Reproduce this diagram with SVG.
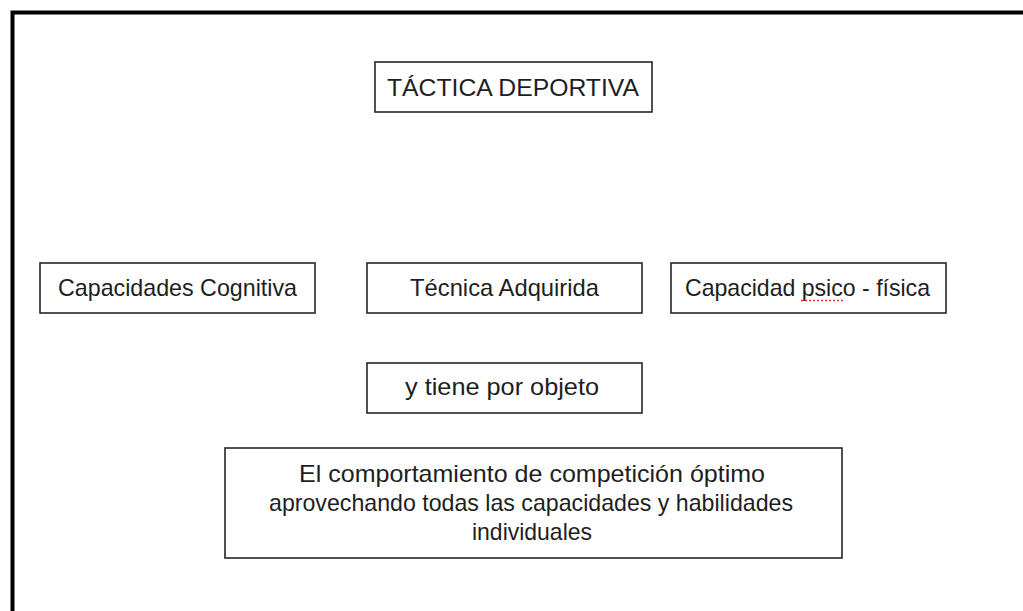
<svg xmlns="http://www.w3.org/2000/svg" width="1023" height="611" viewBox="0 0 1023 611">
  <style>
    .box { fill: #ffffff; stroke: #262626; stroke-width: 1.6; }
    .lbl { font-family: "Liberation Sans", Arial, sans-serif; font-size: 24px; fill: #1e1e1e; text-anchor: middle; }
    .frame { fill: none; stroke: #000000; stroke-width: 4; }
    .spell { fill: none; stroke: #e0352b; stroke-width: 1.6; stroke-dasharray: 2 2; }
  </style>
  <rect width="1023" height="611" fill="#ffffff"/>
  <path class="frame" d="M12.5,611 V12.5 H1023"/>

  <g id="connectors"></g>

  <g id="node-tactica">
    <rect class="box" x="375" y="62" width="277" height="50"/>
    <text class="lbl" x="513" y="96" textLength="252" lengthAdjust="spacingAndGlyphs">TÁCTICA DEPORTIVA</text>
  </g>

  <g id="node-cognitiva">
    <rect class="box" x="40" y="263" width="275" height="50"/>
    <text class="lbl" x="177.5" y="296" textLength="239" lengthAdjust="spacingAndGlyphs">Capacidades Cognitiva</text>
  </g>

  <g id="node-tecnica">
    <rect class="box" x="367" y="263" width="275" height="50"/>
    <text class="lbl" x="504.5" y="296" textLength="189" lengthAdjust="spacingAndGlyphs">Técnica Adquirida</text>
  </g>

  <g id="node-psicofisica">
    <rect class="box" x="671" y="263" width="275" height="50"/>
    <text class="lbl" x="807.5" y="296" textLength="245" lengthAdjust="spacingAndGlyphs">Capacidad psico - física</text>
    <path class="spell" d="M801,300.5 H843"/>
  </g>

  <g id="node-objeto">
    <rect class="box" x="367" y="363" width="275" height="50"/>
    <text class="lbl" x="502" y="395" textLength="194" lengthAdjust="spacingAndGlyphs">y tiene por objeto</text>
  </g>

  <g id="node-comportamiento">
    <rect class="box" x="225" y="448" width="617" height="110"/>
    <text class="lbl" x="532" y="482" textLength="466" lengthAdjust="spacingAndGlyphs">El comportamiento de competición óptimo</text>
    <text class="lbl" x="531" y="511" textLength="524" lengthAdjust="spacingAndGlyphs">aprovechando todas las capacidades y habilidades</text>
    <text class="lbl" x="532" y="540" textLength="120" lengthAdjust="spacingAndGlyphs">individuales</text>
  </g>
</svg>
